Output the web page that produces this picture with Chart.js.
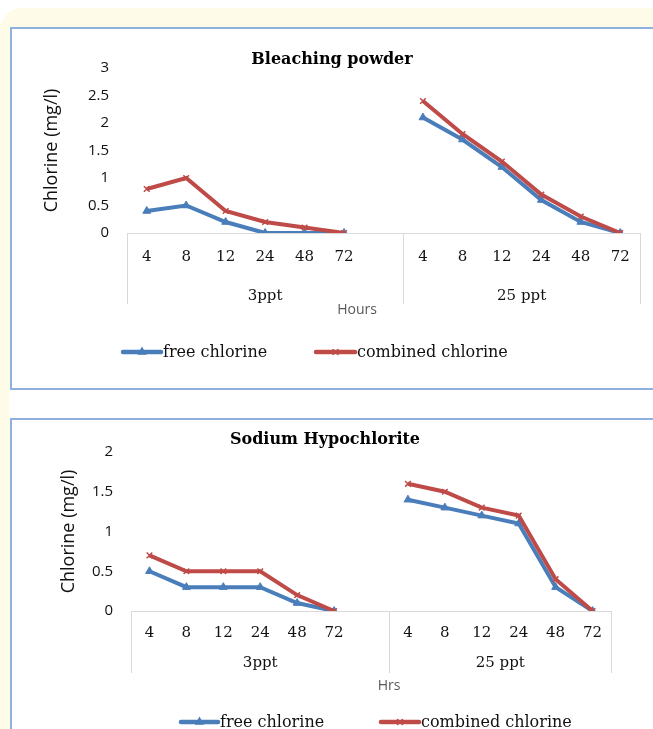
<!DOCTYPE html>
<html>
<head>
<meta charset="utf-8">
<script src="https://cdn.jsdelivr.net/npm/chart.js@4/dist/chart.umd.min.js"></script>
<style>
  html, body { margin: 0; padding: 0; background: #ffffff; }
  body { position: relative; width: 653px; height: 729px; overflow: hidden; }
  #cream { position: absolute; left: 0; top: 8px; width: 700px; height: 800px; background: #fffbe9; border-top-left-radius: 22px; }
  #gap { position: absolute; left: 9px; top: 389px; width: 700px; height: 29px; background: #ffffff; }
  .box { position: absolute; left: 10px; width: 700px; box-sizing: border-box; border: 2px solid #8fb1dd; background: #ffffff; }
  #box1 { top: 27px; height: 363px; }
  #box2 { top: 418px; height: 400px; }
  canvas { position: absolute; left: 12px; }
  #c1 { top: 29px; }
  #c2 { top: 420px; }
</style>
</head>
<body>
<div id="cream"></div>
<div id="gap"></div>
<div class="box" id="box1"></div>
<div class="box" id="box2"></div>
<canvas id="c1" width="641" height="358"></canvas>
<canvas id="c2" width="641" height="309"></canvas>
<script>
// ---------- data ----------
const xLabels = ['4','8','12','24','48','72','','4','8','12','24','48','72'];
const groupLabels = ['3ppt', '25 ppt'];
const seriesNames = ['free chlorine', 'combined chlorine'];

const bleachFree     = [0.4, 0.5, 0.2, 0.0, 0.0, 0.0, null, 2.1, 1.7, 1.2, 0.6, 0.2, 0.0];
const bleachCombined = [0.8, 1.0, 0.4, 0.2, 0.1, 0.0, null, 2.4, 1.8, 1.3, 0.7, 0.3, 0.0];
const hypoFree       = [0.5, 0.3, 0.3, 0.3, 0.1, 0.0, null, 1.4, 1.3, 1.2, 1.1, 0.3, 0.0];
const hypoCombined   = [0.7, 0.5, 0.5, 0.5, 0.2, 0.0, null, 1.6, 1.5, 1.3, 1.2, 0.4, 0.0];

const bleachYTicks = [0, 0.5, 1, 1.5, 2, 2.5, 3];
const hypoYTicks   = [0, 0.5, 1, 1.5, 2];

// ---------- styling ----------
const BLUE = '#4a7ebb';
const RED = '#be4b48';
const SERIF = '"DejaVu Serif", serif';
const SANS = '"Open Sans", sans-serif';

const decor = {
  id: 'decor',
  afterDraw(chart, args, o) {
    const ctx = chart.ctx;
    const ca = chart.chartArea;
    const xs = chart.scales.x;
    const gapIdx = xLabels.indexOf('');
    const sep = (xs.getPixelForValue(gapIdx) + xs.getPixelForValue(gapIdx + 1)) / 2;
    ctx.save();
    // separators
    ctx.strokeStyle = '#d9d9d9';
    ctx.lineWidth = 1;
    [ca.left, sep, ca.right].forEach(x => {
      const px = Math.round(x) + 0.5;
      ctx.beginPath();
      ctx.moveTo(px, ca.bottom);
      ctx.lineTo(px, ca.bottom + o.sepLen);
      ctx.stroke();
    });
    // group labels
    ctx.fillStyle = '#111';
    ctx.font = '15px ' + SERIF;
    ctx.textAlign = 'center';
    ctx.textBaseline = 'middle';
    ctx.fillText(groupLabels[0], (ca.left + sep) / 2, o.groupY);
    ctx.fillText(groupLabels[1], (sep + ca.right) / 2, o.groupY);
    // axis caption
    ctx.fillStyle = '#595959';
    ctx.font = '14px ' + SANS;
    ctx.fillText(o.xTitle, o.xTitleX, o.xTitleY);
    // title
    ctx.fillStyle = '#000';
    ctx.font = 'bold 16px ' + SERIF;
    ctx.fillText(o.title, o.titleX, o.titleY);
    // legend
    const items = [
      {x0: o.leg[0], x1: o.leg[1], tx: o.leg[2], color: BLUE, style: 'triangle', r: 4, name: seriesNames[0]},
      {x0: o.leg[3], x1: o.leg[4], tx: o.leg[5], color: RED, style: 'crossRot', r: 3.5, name: seriesNames[1]}
    ];
    items.forEach(it => {
      ctx.strokeStyle = it.color;
      ctx.lineWidth = 4.5;
      ctx.lineCap = 'round';
      ctx.beginPath();
      ctx.moveTo(it.x0, o.legY);
      ctx.lineTo(it.x1, o.legY);
      ctx.stroke();
      ctx.fillStyle = it.color;
      ctx.lineWidth = 1.5;
      Chart.helpers.drawPoint(ctx, {pointStyle: it.style, radius: it.r, rotation: 0, borderWidth: 1.5}, (it.x0 + it.x1) / 2, o.legY);
      ctx.fillStyle = '#111';
      ctx.font = '16px ' + SERIF;
      ctx.textAlign = 'left';
      ctx.textBaseline = 'middle';
      ctx.fillText(it.name, it.tx, o.legY + 1);
    });
    ctx.restore();
  }
};

function makeChart(id, free, combined, yTicks, L) {
  return new Chart(document.getElementById(id), {
    type: 'line',
    data: {
      labels: xLabels,
      datasets: [
        {
          label: seriesNames[0], data: free, borderColor: BLUE, backgroundColor: BLUE,
          borderWidth: 4, pointStyle: 'triangle', pointRadius: 4.5, pointBorderWidth: 1,
          pointBackgroundColor: BLUE, pointBorderColor: BLUE, tension: 0, spanGaps: false, order: 1
        },
        {
          label: seriesNames[1], data: combined, borderColor: RED, backgroundColor: RED,
          borderWidth: 4, pointStyle: 'crossRot', pointRadius: 4, pointBorderWidth: 1.5,
          pointBackgroundColor: RED, pointBorderColor: RED, tension: 0, spanGaps: false, order: 0
        }
      ]
    },
    options: {
      responsive: false,
      animation: false,
      devicePixelRatio: 1,
      layout: { padding: { left: 0, right: L.padRight, top: L.padTop, bottom: L.padBottom } },
      plugins: {
        legend: { display: false },
        title: { display: false },
        tooltip: { enabled: false },
        decor: L.decor
      },
      scales: {
        x: {
          type: 'category',
          offset: true,
          grid: { display: false, drawTicks: false },
          border: { display: true, color: '#d9d9d9', width: 1 },
          ticks: { autoSkip: false, maxRotation: 0, padding: L.xTickPad, color: '#111', font: { family: SERIF, size: 15 } },
          afterFit(s) { s.height = L.xHeight; }
        },
        y: {
          min: yTicks[0],
          max: yTicks[yTicks.length - 1],
          grid: { display: false, drawTicks: false },
          border: { display: false },
          afterBuildTicks(s) { s.ticks = yTicks.map(v => ({ value: v })); },
          ticks: { padding: 18, color: '#111', font: { family: SANS, size: 15 }, callback: v => String(v) },
          title: { display: true, text: 'Chlorine (mg/l)', color: '#111', font: { family: SANS, size: 18 }, padding: { top: L.yTitlePad, bottom: 0 } },
          afterFit(s) { s.width = L.yWidth; }
        }
      }
    },
    plugins: [decor]
  });
}

makeChart('c1', bleachFree, bleachCombined, bleachYTicks, {
  padRight: 13, padTop: 39, padBottom: 54, xHeight: 100, yWidth: 115, xTickPad: 15, yTitlePad: 29,
  decor: {
    sepLen: 71, groupY: 267, xTitle: 'Hours', xTitleX: 345, xTitleY: 281,
    title: 'Bleaching powder', titleX: 320, titleY: 31,
    legY: 323, leg: [111, 149, 151, 304, 343, 345]
  }
});

makeChart('c2', hypoFree, hypoCombined, hypoYTicks, {
  padRight: 42, padTop: 32, padBottom: 28, xHeight: 90, yWidth: 119, xTickPad: 13, yTitlePad: 46,
  decor: {
    sepLen: 62, groupY: 243, xTitle: 'Hrs', xTitleX: 377, xTitleY: 266,
    title: 'Sodium Hypochlorite', titleX: 313, titleY: 20,
    legY: 302, leg: [169, 206, 208, 369, 407, 409]
  }
});
</script>
</body>
</html>
